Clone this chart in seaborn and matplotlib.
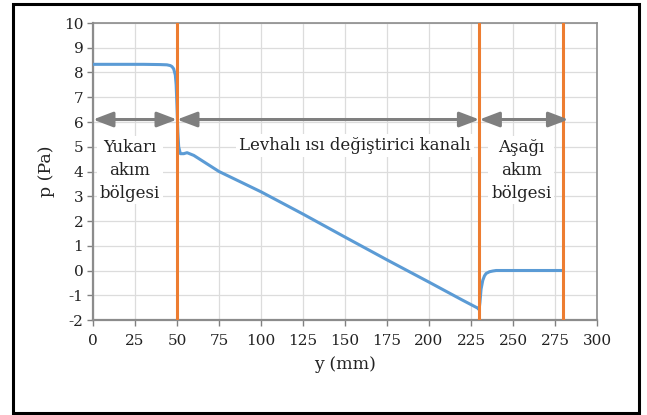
import matplotlib
matplotlib.use("Agg")
import matplotlib.pyplot as plt
import seaborn as sns
import pandas as pd
from matplotlib.patches import Rectangle

# Pressure profile along the channel
y_mm = [0, 10, 20, 30, 40, 44, 46, 47, 48, 49, 49.5, 50, 50.5, 51, 52, 54, 56, 60,
        75, 100, 125, 150, 175, 200, 220, 229, 229.8, 230.3, 231, 232, 233, 234,
        236, 238, 240, 245, 250, 260, 270, 280]
p_pa = [8.33, 8.33, 8.33, 8.33, 8.32, 8.31, 8.28, 8.24, 8.15, 7.9, 7.5, 6.6, 5.6,
        5.0, 4.72, 4.72, 4.76, 4.65, 4.0, 3.18, 2.28, 1.35, 0.43, -0.47, -1.2,
        -1.52, -1.58, -1.3, -0.75, -0.4, -0.22, -0.12, -0.05, -0.02, 0.0, 0.0,
        0.0, 0.0, 0.0, 0.0]

# Region boundaries and labels
boundaries = [50, 230, 280]
region_spans = [(0, 50), (50, 230), (230, 283)]
region_labels = ["Yukarı\nakım\nbölgesi", "Levhalı ısı değiştirici kanalı", "Aşağı\nakım\nbölgesi"]
label_pos = [(22, 4.05), (156, 5.05), (255, 4.05)]

x_ticks = list(range(0, 301, 25))
y_ticks = list(range(-2, 11, 1))

sns.set_theme(style="whitegrid")
plt.rcParams["font.family"] = ["DejaVu Serif"]
plt.rcParams["axes.unicode_minus"] = False

fig = plt.figure(figsize=(6.47, 4.15), dpi=100)
ax = fig.add_axes([93 / 647, 1 - 320 / 415, 504 / 647, 297 / 415])

df = pd.DataFrame({"y (mm)": y_mm, "p (Pa)": p_pa})
sns.lineplot(data=df, x="y (mm)", y="p (Pa)", ax=ax, color="#5B9BD5", lw=2.2,
             zorder=3)

for b in boundaries:
    ax.axvline(b, color="#ED7D31", lw=2.2, zorder=4)

for (x0, x1) in region_spans:
    ax.annotate("", xy=(x1, 6.1), xytext=(x0, 6.1),
                arrowprops=dict(arrowstyle="<|-|>,head_length=1.0,head_width=0.38",
                                color="#7F7F7F", lw=2.2, shrinkA=0, shrinkB=0),
                zorder=5)

for txt, (tx, ty) in zip(region_labels, label_pos):
    ax.text(tx, ty, txt, ha="center", va="center", fontsize=12, color="#222222",
            linespacing=1.45, zorder=6,
            bbox=dict(facecolor="white", edgecolor="none", pad=2))

ax.set_xlim(0, 300)
ax.set_ylim(-2, 10)
ax.set_xticks(x_ticks)
ax.set_yticks(y_ticks)
ax.tick_params(axis="both", labelsize=11, colors="#222222", length=4,
               width=1, direction="out", pad=3)
ax.tick_params(axis="x", color="#808080", pad=6)
ax.tick_params(axis="y", color="#808080")
ax.xaxis.set_tick_params(bottom=True)
ax.yaxis.set_tick_params(left=True)
ax.grid(True, color="#DCDCDC", lw=0.9)
for s in ax.spines.values():
    s.set_color("#8C8C8C")
    s.set_linewidth(1.2)
ax.spines["left"].set_linewidth(1.6)
ax.spines["bottom"].set_linewidth(1.6)

ax.set_xlabel("y (mm)", fontsize=12.5, color="#222222", labelpad=6)
ax.set_ylabel("p (Pa)", fontsize=12.5, color="#222222", labelpad=6)

# Outer frame around the whole figure
fig.patches.append(Rectangle((13 / 647, 1 - 412.5 / 415), 626 / 647, 408.5 / 415,
                             transform=fig.transFigure, fill=False,
                             edgecolor="black", lw=2.2))

fig.savefig("out.png", dpi=100)
